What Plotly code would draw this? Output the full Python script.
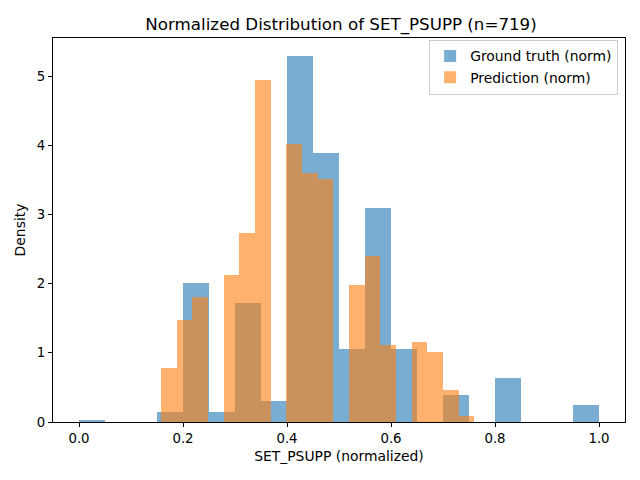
import numpy as np
import plotly.graph_objects as go

# Sample size (from title) and histogram bins
n_samples = 719

gt_range = [0.0, 1.0]
gt_counts = [1, 0, 0, 5, 72, 5, 62, 11, 190, 140,
             38, 111, 38, 0, 14, 0, 23, 0, 0, 9]

pred_range = [0.158, 0.760]
pred_counts = [17, 32, 39, 0, 46, 59, 107, 0, 87, 78,
               76, 0, 43, 52, 24, 0, 25, 22, 10, 2]

x_ticks = [0.0, 0.2, 0.4, 0.6, 0.8, 1.0]
y_ticks = [0, 1, 2, 3, 4, 5]

FONT = "DejaVu Sans"


def density_bars(rng, counts):
    counts = np.array(counts, dtype=float)
    edges = np.linspace(rng[0], rng[1], len(counts) + 1)
    width = edges[1] - edges[0]
    centers = (edges[:-1] + edges[1:]) / 2
    return centers, width, counts / (counts.sum() * width)


gx, gw, gy = density_bars(gt_range, gt_counts)
px, pw, py = density_bars(pred_range, pred_counts)

fig = go.Figure()
fig.add_trace(go.Bar(
    x=gx, y=gy, width=gw, name='Ground truth (norm)',
    marker=dict(color='rgba(31,119,180,0.6)', line=dict(width=0)),
))
fig.add_trace(go.Bar(
    x=px, y=py, width=pw, name='Prediction (norm)',
    marker=dict(color='rgba(255,127,14,0.6)', line=dict(width=0)),
))

ymax = max(gy.max(), py.max()) * 1.05

# page body has an 8px margin, so the figure is 8px smaller and margins shifted
fig.update_layout(
    width=632, height=472,
    barmode='overlay',
    bargap=0,
    margin=dict(l=45, r=15, t=30, b=58, autoexpand=False),
    plot_bgcolor='white',
    paper_bgcolor='white',
    font=dict(family=FONT, size=13.9, color='black'),
    title=dict(text=f'Normalized Distribution of SET_PSUPP (n={n_samples})',
               x=0.527, xanchor='center', y=0.966, yanchor='middle',
               font=dict(size=16.7)),
    legend=dict(x=0.988, y=0.996, xanchor='right', yanchor='top',
                bgcolor='rgba(255,255,255,0.8)', bordercolor='#cccccc',
                borderwidth=1, font=dict(size=13.9)),
    xaxis=dict(range=[-0.05, 1.05], tickvals=x_ticks,
               ticktext=[f'{v:.1f}' for v in x_ticks],
               ticks='outside', ticklen=4, tickcolor='black',
               showline=True, linecolor='black', mirror=True,
               showgrid=False, zeroline=False, automargin=False,
               tickfont=dict(size=13.3),
               title=dict(text='SET_PSUPP (normalized)', standoff=6,
                          font=dict(size=13.9))),
    yaxis=dict(range=[0, ymax], tickvals=y_ticks,
               ticks='outside', ticklen=4, tickcolor='black',
               showline=True, linecolor='black', mirror=True,
               showgrid=False, zeroline=False, automargin=False,
               tickfont=dict(size=13.3),
               title=dict(text='Density', standoff=8,
                          font=dict(size=13.9))),
)

fig.write_html("out.html")
